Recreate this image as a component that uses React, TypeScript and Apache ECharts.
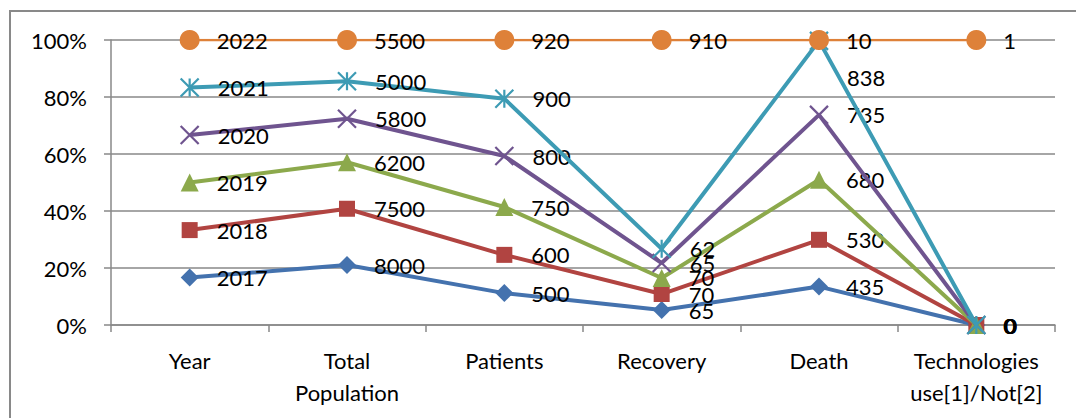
import React, { useEffect, useRef } from "react";
import * as echarts from "echarts";

// Categories along the x axis
const categories = [
  "Year",
  "Total\nPopulation",
  "Patients",
  "Recovery",
  "Death",
  "Technologies\nuse[1]/Not[2]",
];

// One row of raw values per year
const seriesNames = ["2017", "2018", "2019", "2020", "2021", "2022"];
const s2017 = [2017, 8000, 500, 65, 435, 0];
const s2018 = [2018, 7500, 600, 70, 530, 0];
const s2019 = [2019, 6200, 750, 70, 680, 0];
const s2020 = [2020, 5800, 800, 65, 735, 0];
const s2021 = [2021, 5000, 900, 62, 838, 0];
const s2022 = [2022, 5500, 920, 910, 10, 1];
const rows = [s2017, s2018, s2019, s2020, s2021, s2022];

const yTicks = [0, 20, 40, 60, 80, 100];

const colors = ["#4472AE", "#B14441", "#8CA94C", "#6F548F", "#3D9BB4", "#DE8139"];
const X_PATH = "path://M0 0L10 10M10 0L0 10";
const STAR_PATH = "path://M0 0L10 10M10 0L0 10M5 0L5 10";
const symbols = ["diamond", "rect", "triangle", X_PATH, STAR_PATH, "circle"];
const symbolSizes = [18, 16, 18, 18, 18, 20];
const lineWidths = [4, 4, 4, 4, 4, 2.5];

const FONT = "Lato, 'Noto Sans', sans-serif";
const GRAY = "#898989";

export default function App() {
  const ref = useRef<HTMLDivElement>(null);

  useEffect(() => {
    if (!ref.current) return;
    const chart = echarts.init(ref.current, null, { renderer: "svg" });

    // column totals for the 100% stack
    const totals = categories.map((_, ci) => rows.reduce((a, r) => a + r[ci], 0));

    const series = rows.map((row, si) => {
      const strokeOnly = si === 3 || si === 4;
      return {
        name: seriesNames[si],
        type: "line",
        stack: "all",
        data: row.map((v, ci) => {
          const share = totals[ci] ? (v / totals[ci]) * 100 : 0;
          // the 2021 death label sits below its point, clear of the 2022 label
          if (si === 4 && ci === 4) {
            return { value: share, label: { offset: [0, 37] } };
          }
          return share;
        }),
        symbol: symbols[si],
        symbolSize: symbolSizes[si],
        showAllSymbol: true,
        lineStyle: { color: colors[si], width: lineWidths[si] },
        itemStyle: strokeOnly
          ? { color: "rgba(0,0,0,0)", borderColor: colors[si], borderWidth: 2.2 }
          : { color: colors[si], borderWidth: 0 },
        label: {
          show: true,
          position: "right",
          distance: 27 - symbolSizes[si] / 2,
          color: "#000",
          fontSize: 22,
          fontFamily: FONT,
          formatter: (p: any) => String(rows[si][p.dataIndex]),
        },
        emphasis: { disabled: true },
        z: 2 + si,
      };
    });

    chart.setOption({
      animation: false,
      grid: { left: 111, right: 21, top: 40, bottom: 93, containLabel: false },
      xAxis: {
        type: "category",
        data: categories,
        boundaryGap: true,
        axisLine: { show: true, lineStyle: { color: GRAY, width: 1.5 } },
        axisTick: { show: true, length: 7, lineStyle: { color: GRAY, width: 1.5 } },
        axisLabel: {
          color: "#000",
          fontSize: 22,
          fontFamily: FONT,
          lineHeight: 32,
          margin: 19,
          interval: 0,
        },
      },
      yAxis: {
        type: "value",
        min: yTicks[0],
        max: yTicks[yTicks.length - 1],
        interval: 20,
        axisLine: { show: true, lineStyle: { color: GRAY, width: 1.5 } },
        axisTick: { show: true, length: 7, lineStyle: { color: GRAY, width: 1.5 } },
        splitLine: { show: true, lineStyle: { color: GRAY, width: 1.5 } },
        axisLabel: {
          color: "#000",
          fontSize: 22,
          fontFamily: FONT,
          margin: 24,
          formatter: "{value}%",
        },
      },
      graphic: [
        {
          type: "rect",
          shape: { x: 10, y: 11, width: 1200, height: 600 },
          style: { fill: "none", stroke: GRAY, lineWidth: 2 },
          silent: true,
        },
      ],
      series,
    });

    return () => chart.dispose();
  }, []);

  return (
    <div
      ref={ref}
      style={{ position: "fixed", left: 0, top: 0, width: 1076, height: 418, background: "#fff" }}
    />
  );
}
